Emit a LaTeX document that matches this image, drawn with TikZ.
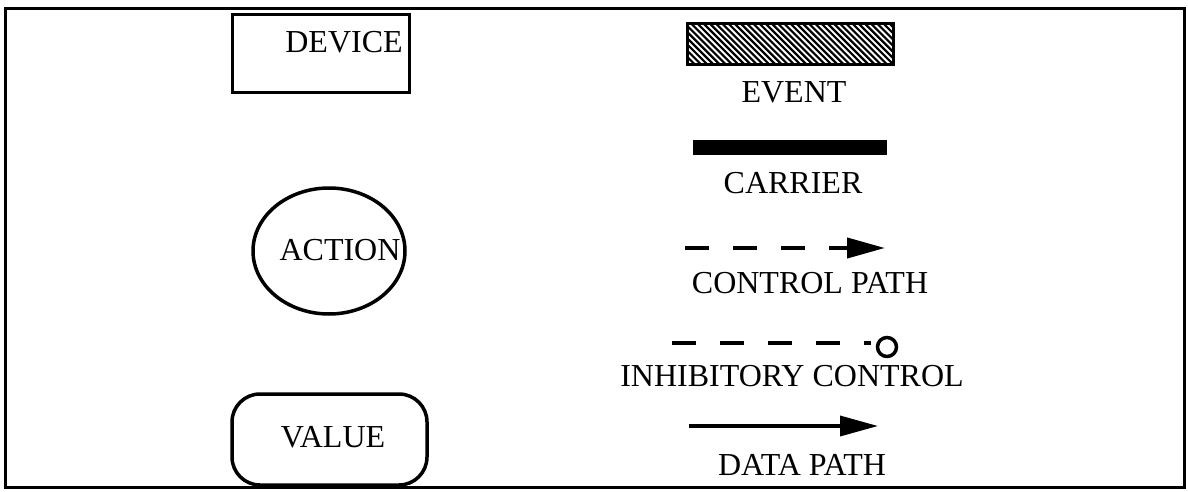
\documentclass[tikz,border=0pt]{standalone}
\usepackage{fontspec}
\setmainfont{Liberation Serif}
\usetikzlibrary{arrows.meta,shapes.geometric}
\begin{document}
\begin{tikzpicture}[x=1pt,y=-1pt,
  lbl/.style={inner sep=0pt, font=\fontsize{32}{38}\selectfont},
  shapebox/.style={draw, line width=3pt, inner sep=0pt},
  dashpath/.style={line width=4pt, dash pattern=on 24pt off 24pt},
  bigtip/.style={-{Triangle[length=38pt,width=20pt]}}]
\useasboundingbox (0,0) rectangle (1188,492);
% outer frame
\draw[line width=3pt] (5,9) rectangle (1184,487);

% left column: symbols for device, action and value
\node[shapebox, minimum width=177pt, minimum height=78pt] (device) at (320.5,54) {};
\node[lbl] (devicelbl) at (344,42) {DEVICE};

\node[shapebox, ellipse, line width=3.5pt, minimum width=152pt, minimum height=126pt] (action) at (329,251) {};
\node[lbl] (actionlbl) at (340,250) {ACTION};

\node[shapebox, line width=3.5pt, rounded corners=28pt, minimum width=195pt, minimum height=91pt] (value) at (329.5,439.5) {};
\node[lbl] (valuelbl) at (333,437) {VALUE};

% right column: event, carrier and the three kinds of path
\node[shapebox, minimum width=206pt, minimum height=41pt,
  path picture={\foreach \k in {0,...,42}{
    \draw[line width=2.2pt] ([xshift=\k*6.2pt-45pt]path picture bounding box.north west) -- ++(50,50);}}]
  (event) at (790,44.5) {};
\node[lbl] (eventlbl) at (794,92) {EVENT};

\node[fill, inner sep=0pt, minimum width=194pt, minimum height=15pt] (carrier) at (790,147.5) {};
\node[lbl] (carrierlbl) at (793,183) {CARRIER};

\coordinate (ctrlA) at (685,248);
\coordinate (ctrlB) at (885,248);
\draw[dashpath, bigtip] (ctrlA) -- (ctrlB);
\node[lbl] (ctrllbl) at (810,283) {CONTROL PATH};

\coordinate (inhA) at (672,343);
\coordinate (inhB) at (871,343);
\node[draw, circle, line width=3.5pt, inner sep=0pt, minimum size=19pt] (inhend) at (887,347) {};
\draw[dashpath] (inhA) -- (inhB);
\node[lbl] (inhlbl) at (792,376) {INHIBITORY CONTROL};

\coordinate (dataA) at (689,426);
\coordinate (dataB) at (878,426);
\draw[line width=3.5pt, bigtip] (dataA) -- (dataB);
\node[lbl] (datalbl) at (802,465) {DATA PATH};
\end{tikzpicture}
\end{document}
